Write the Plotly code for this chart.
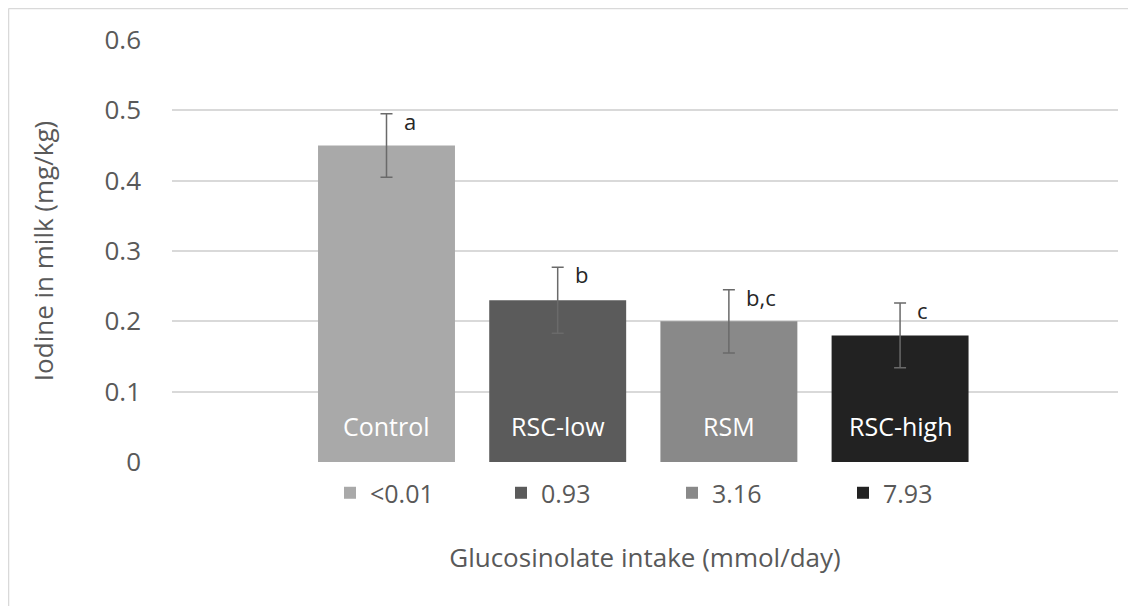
import plotly.graph_objects as go

groups = ["Control", "RSC-low", "RSM", "RSC-high"]
intake = ["<0.01", "0.93", "3.16", "7.93"]
iodine = [0.45, 0.23, 0.20, 0.18]
sem = [0.045, 0.047, 0.045, 0.046]
letters = ["a", "b", "b,c", "c"]
yticks = [0, 0.1, 0.2, 0.3, 0.4, 0.5, 0.6]
colors = ["#a9a9a9", "#5b5b5b", "#898989", "#222222"]

FONT = "Open Sans"
GREY = "#595959"

fig = go.Figure()
for i, (g, lab, v, e, c) in enumerate(zip(groups, intake, iodine, sem, colors)):
    fig.add_trace(go.Bar(
        x=[i], y=[v], name=lab, width=0.8,
        marker=dict(color=c, line=dict(width=0)),
        error_y=dict(type="data", array=[e], color="#6a6a6a", thickness=1.5, width=6),
        hoverinfo="skip",
    ))
    fig.add_annotation(x=i, y=v + e, text=letters[i], showarrow=False,
                       xanchor="left", yanchor="middle", xshift=15, yshift=-7,
                       font=dict(family=FONT, size=22, color="#262626"))
    fig.add_annotation(x=i, y=0, text=g, showarrow=False,
                       xanchor="center", yanchor="middle", yshift=36,
                       font=dict(family=FONT, size=25, color="#ffffff"))

# outer chart border (top and left visible)
fig.add_shape(type="line", xref="paper", yref="paper",
              x0=-0.1728, x1=1.2, y0=1.0746, y1=1.0746,
              line=dict(color="#d9d9d9", width=1.5))
fig.add_shape(type="line", xref="paper", yref="paper",
              x0=-0.1728, x1=-0.1728, y0=1.0746, y1=-0.5,
              line=dict(color="#d9d9d9", width=1.5))

fig.update_layout(
    width=1136, height=606,
    margin=dict(l=164, r=26, t=32, b=152),
    paper_bgcolor="white", plot_bgcolor="white",
    barmode="overlay",
    font=dict(family=FONT, size=26, color=GREY),
    showlegend=True,
    legend=dict(orientation="h", x=0.167, xanchor="left", y=-0.0735, yanchor="middle",
                entrywidth=126, entrywidthmode="pixels",
                font=dict(family=FONT, size=25, color=GREY),
                traceorder="normal", itemclick=False),
    xaxis=dict(range=[-1.253, 4.273], showticklabels=False, showgrid=False,
               zeroline=False, showline=False, ticks="",
               title=dict(text="Glucosinolate intake (mmol/day)", standoff=86,
                          font=dict(family=FONT, size=26, color=GREY))),
    yaxis=dict(range=[0, 0.6], tickvals=yticks, ticktext=[f"{t:g}" for t in yticks],
               showgrid=True, gridcolor="#d9d9d9", gridwidth=1.5,
               zeroline=False, showline=False, ticks="", ticklabelstandoff=30,
               tickfont=dict(family=FONT, size=26, color=GREY),
               title=dict(text="Iodine in milk (mg/kg)", standoff=43,
                          font=dict(family=FONT, size=26, color=GREY))),
)

fig.write_html("out.html")
